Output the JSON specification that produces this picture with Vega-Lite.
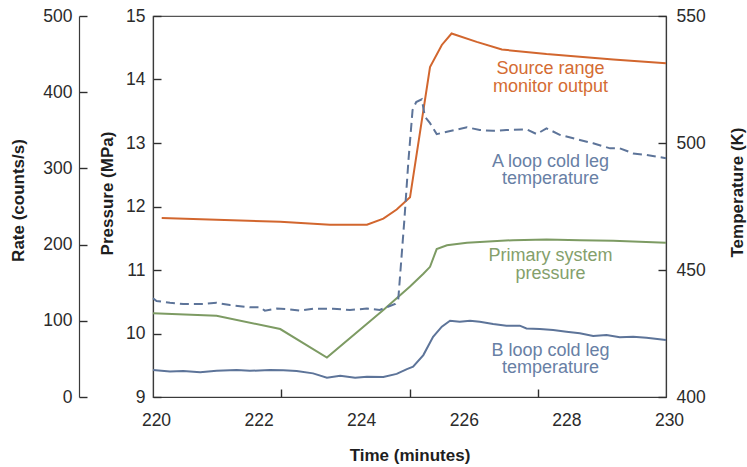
{
  "$schema": "https://vega.github.io/schema/vega-lite/v6.json",
  "autosize": {"type": "none"},
  "width": 513,
  "height": 381,
  "padding": {"left": 153, "top": 16, "right": 81, "bottom": 70},
  "background": "white",
  "config": {
    "view": {"stroke": "#555555", "strokeWidth": 1.2},
    "font": "Liberation Sans",
    "axis": {
      "grid": false,
      "labelFont": "Liberation Sans",
      "labelFontSize": 17.5,
      "labelColor": "#2b2b2b",
      "titleFont": "Liberation Sans",
      "titleFontSize": 17,
      "titleFontWeight": "bold",
      "titleColor": "#1e1e1e",
      "domainColor": "#3a3a3a",
      "domainWidth": 1.2,
      "tickColor": "#2e2e2e",
      "tickWidth": 1.4
    }
  },
  "datasets": {
    "rate": [
      {"t": 220.17, "v": 235}, {"t": 222.48, "v": 230}, {"t": 223.45, "v": 226},
      {"t": 224.17, "v": 226}, {"t": 224.49, "v": 234}, {"t": 224.75, "v": 246},
      {"t": 225.01, "v": 262}, {"t": 225.40, "v": 433}, {"t": 225.63, "v": 462},
      {"t": 225.82, "v": 477}, {"t": 226.31, "v": 466}, {"t": 226.80, "v": 456},
      {"t": 227.67, "v": 450}, {"t": 228.97, "v": 443}, {"t": 230.0, "v": 438}
    ],
    "pressure": [
      {"t": 220.0, "v": 10.32}, {"t": 221.24, "v": 10.28}, {"t": 222.48, "v": 10.07},
      {"t": 223.39, "v": 9.62}, {"t": 224.49, "v": 10.37}, {"t": 225.01, "v": 10.74},
      {"t": 225.27, "v": 10.94}, {"t": 225.40, "v": 11.05}, {"t": 225.53, "v": 11.33},
      {"t": 225.73, "v": 11.39}, {"t": 226.12, "v": 11.43}, {"t": 227.02, "v": 11.47},
      {"t": 227.67, "v": 11.48}, {"t": 228.32, "v": 11.47}, {"t": 228.97, "v": 11.46},
      {"t": 230.0, "v": 11.43}
    ],
    "tempA": [
      {"t": 220.0, "v": 438.9}, {"t": 220.07, "v": 437.8}, {"t": 220.33, "v": 437.1},
      {"t": 220.59, "v": 436.6}, {"t": 220.98, "v": 436.6}, {"t": 221.24, "v": 437.1},
      {"t": 221.5, "v": 436.2}, {"t": 221.89, "v": 435.3}, {"t": 222.09, "v": 435.3},
      {"t": 222.18, "v": 434.0}, {"t": 222.41, "v": 434.8}, {"t": 222.67, "v": 434.5},
      {"t": 222.87, "v": 434.0}, {"t": 223.13, "v": 434.8}, {"t": 223.51, "v": 434.7},
      {"t": 223.84, "v": 434.3}, {"t": 224.17, "v": 434.8}, {"t": 224.42, "v": 434.3},
      {"t": 224.72, "v": 436.6}, {"t": 224.78, "v": 438.2}, {"t": 224.9, "v": 469.7},
      {"t": 224.98, "v": 493.3}, {"t": 225.06, "v": 513.0}, {"t": 225.13, "v": 516.1},
      {"t": 225.24, "v": 517.2}, {"t": 225.3, "v": 510.4}, {"t": 225.4, "v": 507.8},
      {"t": 225.53, "v": 503.5}, {"t": 225.73, "v": 504.4}, {"t": 226.12, "v": 506.2},
      {"t": 226.37, "v": 505.1}, {"t": 226.63, "v": 504.8}, {"t": 226.89, "v": 505.1},
      {"t": 227.28, "v": 505.4}, {"t": 227.48, "v": 503.5}, {"t": 227.67, "v": 505.8},
      {"t": 227.93, "v": 503.2}, {"t": 228.32, "v": 501.2}, {"t": 228.58, "v": 499.9},
      {"t": 228.91, "v": 497.9}, {"t": 229.1, "v": 497.9}, {"t": 229.36, "v": 495.9},
      {"t": 229.62, "v": 495.3}, {"t": 230.0, "v": 494.0}
    ],
    "tempB": [
      {"t": 220.0, "v": 410.6}, {"t": 220.33, "v": 410.0}, {"t": 220.59, "v": 410.2},
      {"t": 220.92, "v": 409.7}, {"t": 221.24, "v": 410.3}, {"t": 221.63, "v": 410.6},
      {"t": 221.89, "v": 410.3}, {"t": 222.28, "v": 410.6}, {"t": 222.54, "v": 410.5},
      {"t": 222.8, "v": 410.2}, {"t": 223.12, "v": 409.3}, {"t": 223.39, "v": 407.6},
      {"t": 223.65, "v": 408.4}, {"t": 223.94, "v": 407.6}, {"t": 224.17, "v": 408.0},
      {"t": 224.49, "v": 407.9}, {"t": 224.75, "v": 409.1}, {"t": 224.95, "v": 411.0},
      {"t": 225.07, "v": 411.9}, {"t": 225.27, "v": 416.5}, {"t": 225.46, "v": 423.7},
      {"t": 225.63, "v": 427.7}, {"t": 225.79, "v": 430.0}, {"t": 225.98, "v": 429.6},
      {"t": 226.18, "v": 430.0}, {"t": 226.37, "v": 429.6}, {"t": 226.63, "v": 428.7},
      {"t": 226.89, "v": 428.1}, {"t": 227.15, "v": 428.1}, {"t": 227.28, "v": 427.0},
      {"t": 227.54, "v": 426.8}, {"t": 227.8, "v": 426.4}, {"t": 228.06, "v": 425.7},
      {"t": 228.32, "v": 425.1}, {"t": 228.58, "v": 424.0}, {"t": 228.84, "v": 424.4},
      {"t": 229.1, "v": 423.5}, {"t": 229.36, "v": 423.7}, {"t": 229.62, "v": 423.3},
      {"t": 230.0, "v": 422.4}
    ],
    "rateLabel": [{"t": 227.75, "v": 430, "label": ["Source range", "monitor output"]}],
    "pressureLabel": [{"t": 227.75, "v": 11.22, "label": ["Primary system", "pressure"]}],
    "tempLabels": [
      {"t": 227.75, "v": 492.6, "label": ["A loop cold leg", "temperature"]},
      {"t": 227.75, "v": 418.2, "label": ["B loop cold leg", "temperature"]}
    ]
  },
  "resolve": {"scale": {"y": "independent"}},
  "encoding": {
    "x": {
      "field": "t", "type": "quantitative",
      "scale": {"domain": [220, 230], "nice": false, "zero": false},
      "axis": {
        "orient": "bottom", "title": "Time (minutes)",
        "values": [220, 222, 222.5, 224, 225, 226, 227.5, 228, 230],
        "labelExpr": "datum.value % 2 == 0 ? datum.label : ''",
        "tickSize": -8,
        "tickColor": {"condition": {"test": "datum.value % 2 != 0", "value": "#2e2e2e"}, "value": "transparent"},
        "labelPadding": 22, "labelOffset": 3, "labelFlush": false,
        "titleX": 256.5, "titleY": 58, "titleAlign": "center", "titleBaseline": "middle"
      }
    }
  },
  "layer": [
    {
      "data": {"name": "rate"},
      "mark": {"type": "line", "color": "#d2662e", "strokeWidth": 2},
      "encoding": {
        "y": {
          "field": "v", "type": "quantitative",
          "scale": {"domain": [0, 500], "nice": false},
          "axis": {
            "orient": "left", "offset": 74, "title": "Rate (counts/s)",
            "values": [0, 100, 200, 300, 400, 500],
            "tickSize": -8, "labelPadding": 15, "labelFlush": false,
            "titleAngle": -90, "titleX": -61, "titleY": 184,
            "titleAlign": "center", "titleBaseline": "middle"
          }
        }
      }
    },
    {
      "data": {"name": "rateLabel"},
      "mark": {"type": "text", "color": "#d46c33", "fontSize": 18, "lineHeight": 17.5, "align": "center", "baseline": "middle", "font": "Liberation Sans"},
      "encoding": {
        "y": {"field": "v", "type": "quantitative", "scale": {"domain": [0, 500], "nice": false}, "axis": null},
        "text": {"field": "label"}
      }
    },
    {
      "data": {"name": "pressure"},
      "mark": {"type": "line", "color": "#7d9b63", "strokeWidth": 2},
      "encoding": {
        "y": {
          "field": "v", "type": "quantitative",
          "scale": {"domain": [9, 15], "nice": false, "zero": false},
          "axis": {
            "orient": "left", "title": "Pressure (MPa)",
            "values": [9, 10, 11, 12, 13, 14, 15],
            "tickSize": -8, "labelPadding": 16, "labelFlush": false,
            "titleAngle": -90, "titleX": -46, "titleY": 177,
            "titleAlign": "center", "titleBaseline": "middle"
          }
        }
      }
    },
    {
      "data": {"name": "pressureLabel"},
      "mark": {"type": "text", "color": "#84a06b", "fontSize": 18, "lineHeight": 17.5, "align": "center", "baseline": "middle", "font": "Liberation Sans"},
      "encoding": {
        "y": {"field": "v", "type": "quantitative", "scale": {"domain": [9, 15], "nice": false, "zero": false}, "axis": null},
        "text": {"field": "label"}
      }
    },
    {
      "data": {"name": "tempA"},
      "mark": {"type": "line", "color": "#5d7499", "strokeWidth": 2, "strokeDash": [9, 5]},
      "encoding": {
        "y": {
          "field": "v", "type": "quantitative",
          "scale": {"domain": [400, 550], "nice": false, "zero": false},
          "axis": {
            "orient": "right", "title": "Temperature (K)",
            "values": [400, 450, 500, 550],
            "tickSize": -8, "labelPadding": 18, "labelFlush": false,
            "titleAngle": -90, "titleX": 71, "titleY": 176,
            "titleAlign": "center", "titleBaseline": "middle"
          }
        }
      }
    },
    {
      "data": {"name": "tempB"},
      "mark": {"type": "line", "color": "#5d7499", "strokeWidth": 2},
      "encoding": {
        "y": {"field": "v", "type": "quantitative", "scale": {"domain": [400, 550], "nice": false, "zero": false}, "axis": null}
      }
    },
    {
      "data": {"name": "tempLabels"},
      "mark": {"type": "text", "color": "#6880a5", "fontSize": 18, "lineHeight": 17.5, "align": "center", "baseline": "middle", "font": "Liberation Sans"},
      "encoding": {
        "y": {"field": "v", "type": "quantitative", "scale": {"domain": [400, 550], "nice": false, "zero": false}, "axis": null},
        "text": {"field": "label"}
      }
    }
  ]
}
